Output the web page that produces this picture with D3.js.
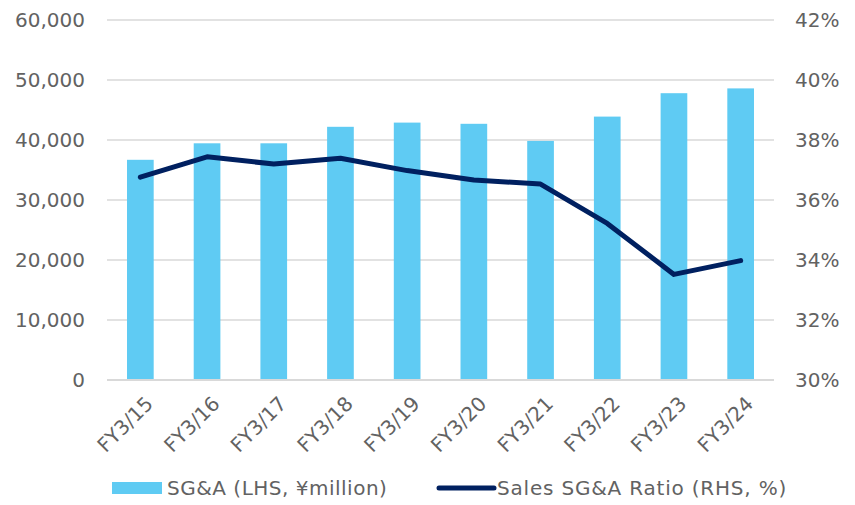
<!DOCTYPE html>
<html>
<head>
<meta charset="utf-8">
<script src="https://cdn.jsdelivr.net/npm/d3@7"></script>
<style>
  body { margin: 0; background: #fff; }
  text { font-family: "DejaVu Sans", Verdana, sans-serif; fill: #626262; }
</style>
</head>
<body>
<div id="chart"></div>
<script>
// DATA
var categories = ["FY3/15", "FY3/16", "FY3/17", "FY3/18", "FY3/19", "FY3/20", "FY3/21", "FY3/22", "FY3/23", "FY3/24"];
var sgaValues = [36700, 39450, 39450, 42200, 42900, 42700, 39850, 43900, 47800, 48600];
var ratioValues = [36.76, 37.44, 37.2, 37.39, 36.98, 36.67, 36.53, 35.22, 33.52, 33.98];
var leftTicks = [0, 10000, 20000, 30000, 40000, 50000, 60000];
var rightTicks = [30, 32, 34, 36, 38, 40, 42];
var legendLabels = ["SG&A (LHS, ¥million)", "Sales SG&A Ratio (RHS, %)"];

// COLORS
var barColor = "#5fcbf3";
var lineColor = "#002060";
var gridColor = "#d9d9d9";
var fontSize = 20;

var width = 855, height = 505;
var margin = {top: 20, right: 81, bottom: 125, left: 107};

var svg = d3.select("#chart").append("svg")
  .attr("width", width)
  .attr("height", height);

var x = d3.scaleBand()
  .domain(categories)
  .range([margin.left, width - margin.right])
  .paddingInner(0.6)
  .paddingOuter(0.3);

var yLeft = d3.scaleLinear().domain([0, 60000]).range([height - margin.bottom, margin.top]);
var yRight = d3.scaleLinear().domain([30, 42]).range([height - margin.bottom, margin.top]);

// gridlines
svg.append("g")
  .selectAll("line")
  .data(leftTicks)
  .join("line")
  .attr("x1", margin.left)
  .attr("x2", width - margin.right)
  .attr("y1", d => yLeft(d))
  .attr("y2", d => yLeft(d))
  .attr("stroke", gridColor)
  .attr("stroke-width", 1.5);

// left axis labels
svg.append("g")
  .selectAll("text")
  .data(leftTicks)
  .join("text")
  .attr("x", 85)
  .attr("y", d => yLeft(d))
  .attr("dy", "0.36em")
  .attr("text-anchor", "end")
  .attr("font-size", fontSize)
  .text(d => d3.format(",")(d));

// right axis labels
svg.append("g")
  .selectAll("text")
  .data(rightTicks)
  .join("text")
  .attr("x", 795)
  .attr("y", d => yRight(d))
  .attr("dy", "0.36em")
  .attr("text-anchor", "start")
  .attr("font-size", fontSize)
  .text(d => d + "%");

// bars
svg.append("g")
  .selectAll("rect")
  .data(sgaValues)
  .join("rect")
  .attr("x", (d, i) => x(categories[i]))
  .attr("y", d => yLeft(d))
  .attr("width", x.bandwidth())
  .attr("height", d => yLeft(0) - yLeft(d))
  .attr("fill", barColor);

// baseline
svg.append("line")
  .attr("x1", margin.left)
  .attr("x2", width - margin.right)
  .attr("y1", yLeft(0))
  .attr("y2", yLeft(0))
  .attr("stroke", gridColor)
  .attr("stroke-width", 2);

// ratio line
var line = d3.line()
  .x((d, i) => x(categories[i]) + x.bandwidth() / 2)
  .y(d => yRight(d));

svg.append("path")
  .datum(ratioValues)
  .attr("d", line)
  .attr("fill", "none")
  .attr("stroke", lineColor)
  .attr("stroke-width", 5)
  .attr("stroke-linecap", "round")
  .attr("stroke-linejoin", "round");

// x labels
svg.append("g")
  .selectAll("text")
  .data(categories)
  .join("text")
  .attr("transform", d => `translate(${x(d) + x.bandwidth() / 2 + 4}, ${yLeft(0) + 15}) rotate(-45)`)
  .attr("text-anchor", "end")
  .attr("dy", "0.7em")
  .attr("font-size", fontSize)
  .text(d => d);

// legend
var legend = svg.append("g");
legend.append("rect")
  .attr("x", 112)
  .attr("y", 482)
  .attr("width", 50)
  .attr("height", 12)
  .attr("fill", barColor);
legend.append("text")
  .attr("x", 167)
  .attr("y", 488)
  .attr("dy", "0.36em")
  .attr("font-size", fontSize)
  .attr("letter-spacing", 0.5)
  .text(legendLabels[0]);
legend.append("line")
  .attr("x1", 439)
  .attr("x2", 494)
  .attr("y1", 488)
  .attr("y2", 488)
  .attr("stroke", lineColor)
  .attr("stroke-width", 5)
  .attr("stroke-linecap", "round");
legend.append("text")
  .attr("x", 497)
  .attr("y", 488)
  .attr("dy", "0.36em")
  .attr("font-size", fontSize)
  .attr("letter-spacing", 0.8)
  .text(legendLabels[1]);
</script>
</body>
</html>
